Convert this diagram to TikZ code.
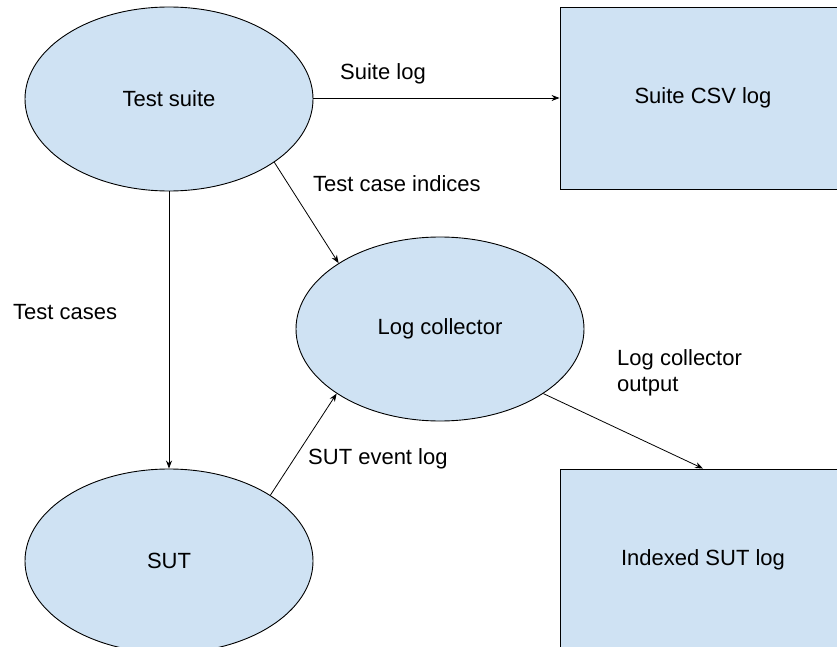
\documentclass[tikz,border=0pt]{standalone}
\usepackage{fontspec}
\setmainfont{Liberation Sans}
\usetikzlibrary{shapes.geometric,arrows.meta}
\definecolor{nodefill}{HTML}{CFE2F3}
\begin{document}
\begin{tikzpicture}[x=1pt,y=-1pt,
  font=\fontsize{22}{26}\selectfont,
  blob/.style={ellipse,draw=black,fill=nodefill,line width=0.9pt,minimum width=288pt,minimum height=184pt,inner sep=0pt},
  store/.style={rectangle,draw=black,fill=nodefill,line width=0.9pt,minimum width=286pt,minimum height=182pt,inner sep=0pt},
  conn/.style={line width=0.8pt,-{Stealth[length=8pt,width=6pt]}},
  lbl/.style={anchor=base west,inner sep=0pt,align=left}]
\useasboundingbox (0,0) rectangle (837,647);
\clip (0,0) rectangle (837,647);
\node[blob] (ts) at (169,99) {Test suite};
\node[store] (csv) at (703,98) {Suite CSV log};
\node[blob] (lc) at (440,329) {Log collector};
\node[blob] (sut) at (169,561) {SUT};
\node[store] (idx) at (703,560) {Indexed SUT log};

\draw[conn] (ts.east |- 0,98) coordinate (a1) -- (csv.west);
\draw[conn] (ts.south) -- (sut.north);
\draw[conn] (ts.-31.9) -- (lc.147);
\draw[conn] (sut.33.8) -- (lc.212);
\draw[conn] (lc.-32) -- (idx.north);

\node[lbl] (l1) at (340,80) {Suite log};
\node[lbl] (l2) at (313,192) {Test case indices};
\node[lbl] (l3) at (13,319) {Test cases};
\node[lbl] (l4) at (617,391) {Log collector\\output};
\node[lbl] (l5) at (308,464) {SUT event log};
\end{tikzpicture}
\end{document}
